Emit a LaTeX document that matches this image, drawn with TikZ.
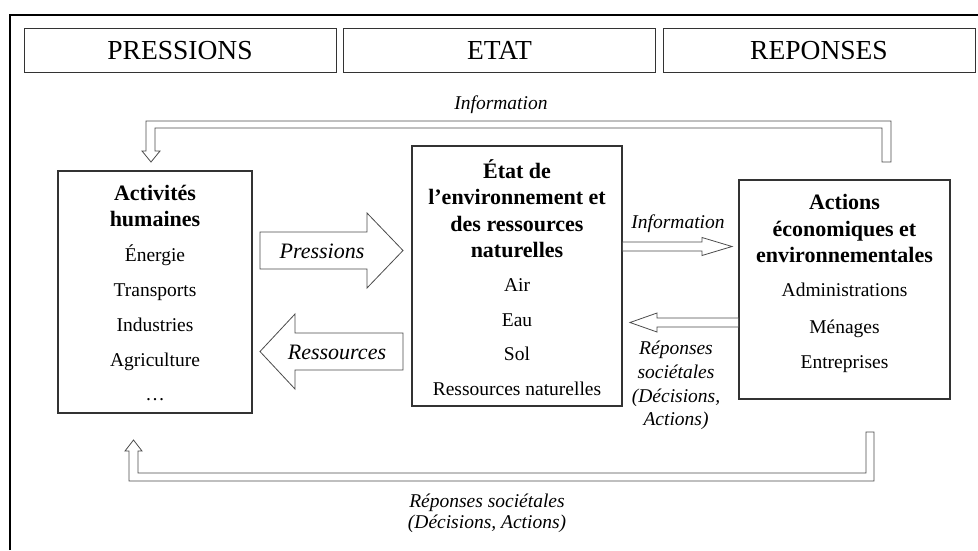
\documentclass[tikz,border=0pt]{standalone}
\usepackage{fontspec}
\setmainfont{Liberation Serif}
\usepackage{tikz}
\usetikzlibrary{calc}
\colorlet{boxLine}{black!80}
\colorlet{arrowLine}{black!70}
\colorlet{frameLine}{black}

\newcommand{\hollowarrow}[5]{%
  \draw[block arrow] ($(#1)-(0,#3)$) -- ($(#2)-(#5,#3)$) -- ($(#2)-(#5,#4)$)
    -- (#2) -- ($(#2)-(#5,-#4)$) -- ($(#2)-(#5,-#3)$) -- ($(#1)+(0,#3)$) -- cycle;}

\begin{document}
\begin{tikzpicture}[
  x=1pt, y=-1pt,
  every box/.style={
    draw=boxLine,
    line width=0.9pt,
    inner sep=0pt,
  },
  header box/.style={
    every box,
    minimum width=312pt,
    minimum height=44pt,
    text height=18pt,
    text depth=0pt,
    font=\fontsize{27.5}{30}\selectfont,
  },
  main box/.style={
    every box,
    line width=1.1pt,
  },
  box title/.style={
    align=center,
    inner sep=0pt,
    font=\bfseries\fontsize{22}{26.5}\selectfont,
  },
  box item/.style={
    inner sep=0pt,
    text height=13pt,
    text depth=4pt,
    font=\fontsize{19.5}{22}\selectfont,
  },
  block arrow/.style={
    draw=arrowLine,
    line width=0.8pt,
    fill=white,
  },
  flow label/.style={
    align=center,
    inner sep=0pt,
    font=\itshape\fontsize{19.5}{23.7}\selectfont,
  },
  big label/.style={
    inner sep=0pt,
    font=\itshape\fontsize{22}{26}\selectfont,
  }
]
\useasboundingbox (0,0) rectangle (978,550);
\draw[frameLine, line width=2.4pt] (10,550) -- (10,15) -- (978,15);

\foreach \txt/\x [count=\i] in {PRESSIONS/180, ETAT/499.5, REPONSES/819}
  \node[header box] (head-\i) at (\x,50) {\txt};

\node[main box, minimum width=194pt, minimum height=242pt] (act) at (155,292) {};
\node[main box, minimum width=210pt, minimum height=260pt] (etat) at (517,276) {};
\node[main box, minimum width=211pt, minimum height=219pt] (rep) at (844.5,289.5) {};

\node[box title] (act-t) at (155,206) {Activités\\humaines};
\node[box title] (etat-t) at (517,208.5) {État de\\l’environnement et\\des ressources\\naturelles};
\node[box title] (rep-t) at (844.5,228.5) {Actions\\économiques et\\environnementales};

\foreach \txt/\y [count=\i] in {Énergie/257, Transports/292, Industries/327, Agriculture/362, …/396}
  \node[box item] (act-\i) at (155,\y) {\txt};
\foreach \txt/\y [count=\i] in {Air/287, Eau/322, Sol/356, Ressources naturelles/391}
  \node[box item] (etat-\i) at (517,\y) {\txt};
\foreach \txt/\y [count=\i] in {Administrations/292, Ménages/329, Entreprises/364}
  \node[box item] (rep-\i) at (844.5,\y) {\txt};

\coordinate (press-a) at (260,250.5);
\coordinate (press-b) at (403,250.5);
\hollowarrow{press-a}{press-b}{18.5}{37.5}{36}
\coordinate (ress-a) at (403,351.5);
\coordinate (ress-b) at (260,351.5);
\hollowarrow{ress-a}{ress-b}{18.5}{37.5}{-35}
\coordinate (info-a) at (etat.east |- 0,246.5);
\coordinate (info-b) at (732,246.5);
\hollowarrow{info-a}{info-b}{4.5}{9}{30}
\coordinate (rep-a) at (rep.west |- 0,322.5);
\coordinate (rep-b) at (630,322.5);
\hollowarrow{rep-a}{rep-b}{4.5}{9.5}{-27}

\coordinate (top-from) at (886.5,162);
\coordinate (top-to) at (151,162);
\draw[block arrow] ($(top-from)+(-4.5,0)$) -- ++(9,0) |- ($(top-to)+(-5,-41)$) -- ++(0,30)
  -- ++(-4,0) -- (top-to) -- ++(9,-11) -- ++(-5,0) |- ($(top-from)+(-4.5,-34)$) -- cycle;
\coordinate (bot-from) at (870,432);
\coordinate (bot-to) at (133.5,440);
\draw[block arrow] ($(bot-from)+(-4,0)$) -- ++(8,0) |- ($(bot-to)+(-4.5,41)$) -- ++(0,-30)
  -- ++(-4,0) -- (bot-to) -- ++(8.5,11) -- ++(-4,0) |- ($(bot-from)+(-4,41)$) -- cycle;

\node[big label] (press) at (322,251) {Pressions};
\node[big label] (ress) at (337,352) {Ressources};
\node[flow label] (info-top) at (501,105) {Information};
\node[flow label] (info-mid) at (678,224) {Information};
\node[flow label] (rep-mid) at (676,385.5) {Réponses\\sociétales\\(Décisions,\\Actions)};
\node[flow label, font=\itshape\fontsize{19.5}{21.5}\selectfont] (rep-bot) at (487,513.5)
  {Réponses sociétales\\(Décisions, Actions)};
\end{tikzpicture}
\end{document}
